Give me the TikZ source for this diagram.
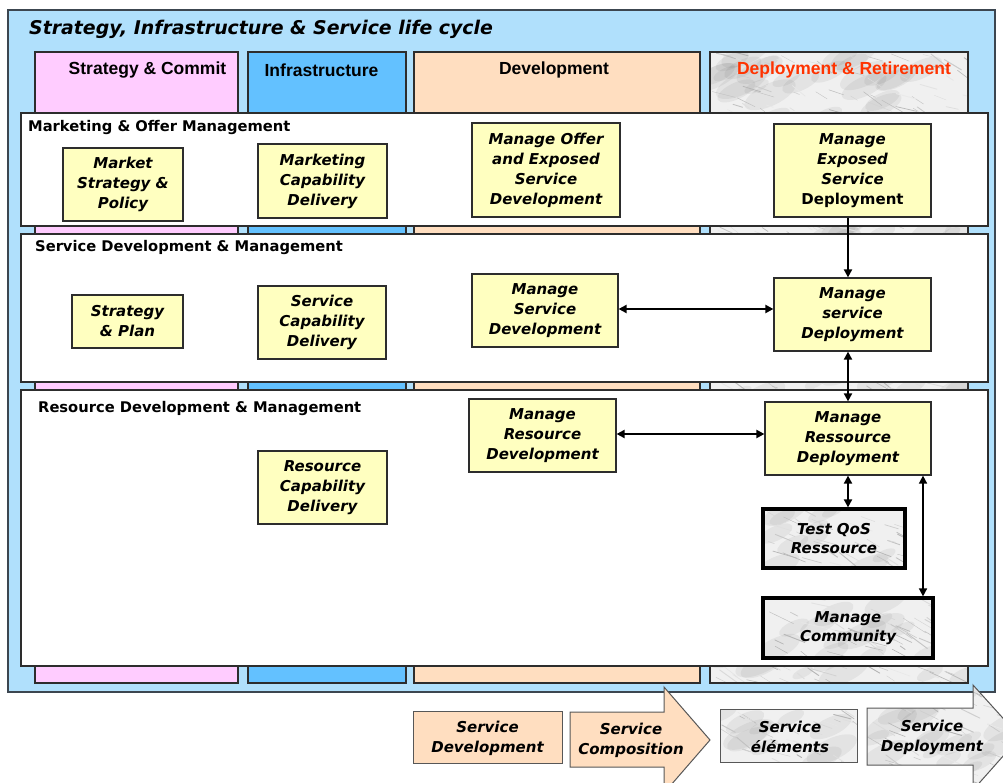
\documentclass[tikz,border=0pt]{standalone}
\usepackage{fontspec}
\setmainfont{Liberation Sans}
\newfontfamily\djv{DejaVu Sans}
\usetikzlibrary{arrows.meta}
\definecolor{outerblue}{RGB}{176,224,252}
\definecolor{colpink}{RGB}{255,204,255}
\definecolor{colblue}{RGB}{99,193,255}
\definecolor{colpeach}{RGB}{255,222,192}
\definecolor{boxyellow}{RGB}{255,255,192}
\definecolor{edge}{RGB}{45,45,45}
\definecolor{frame}{RGB}{60,70,80}
\definecolor{redhead}{RGB}{255,51,0}
\definecolor{marblebg}{RGB}{240,240,240}
\newcommand\marble[4]{%
\begin{scope}
\clip (#1,#2) rectangle (#3,#4);
\fill[marblebg] (#1,#2) rectangle (#3,#4);
\pgfmathtruncatemacro\mbn{((#3-#1)/20)*((#4-#2)/20)*0.5+1}%
\foreach \k in {1,...,\mbn}{%
\pgfmathsetmacro\mbx{#1+rnd*(#3-#1)}%
\pgfmathsetmacro\mby{#2+rnd*(#4-#2)}%
\pgfmathsetmacro\mbr{10+rnd*18}%
\fill[black, opacity=0.05, rotate around={25:(\mbx,\mby)}] (\mbx,\mby) ellipse ({\mbr pt} and {\mbr*0.4 pt});
}
\pgfmathtruncatemacro\mbn{((#3-#1)/20)*((#4-#2)/20)*1.8+2}%
\foreach \k in {1,...,\mbn}{%
\pgfmathsetmacro\mbx{#1+rnd*(#3-#1)}%
\pgfmathsetmacro\mby{#2+rnd*(#4-#2)}%
\pgfmathsetmacro\mbl{5+rnd*22}%
\pgfmathsetmacro\mba{12+rnd*28}%
\pgfmathsetmacro\mbg{8+rnd*22}%
\pgfmathsetmacro\mbw{0.3+rnd*0.7}%
\draw[black!\mbg, line width=\mbw pt, line cap=round] (\mbx,\mby) -- ++(\mba:\mbl);
}
\end{scope}}
\begin{document}
\begin{tikzpicture}[x=1pt,y=-1pt,
  col/.style={draw=edge, line width=1.2pt, inner sep=0pt},
  rowbox/.style={draw=edge, line width=1.8pt, fill=white, inner sep=0pt},
  box/.style={draw=edge, line width=1.2pt, fill=boxyellow, align=center, inner sep=0pt,
    font={\djv\bfseries\itshape\fontsize{15}{20}\selectfont}},
  mbox/.style={draw=black, line width=3.2pt, align=center, inner sep=0pt,
    font={\djv\bfseries\itshape\fontsize{15}{19}\selectfont}},
  btext/.style={align=center, inner sep=0pt, font={\djv\bfseries\itshape\fontsize{15}{20}\selectfont}},
  head/.style={inner sep=0pt, font={\bfseries\fontsize{17.5}{20}\selectfont}},
  rowlabel/.style={inner sep=0pt, anchor=west, font={\djv\bfseries\fontsize{14.7}{17}\selectfont}},
  title/.style={inner sep=0pt, anchor=west, font={\djv\bfseries\itshape\fontsize{18.9}{22}\selectfont}},
  arr/.style={-{Triangle[length=8pt,width=8pt]}, line width=1.8pt},
  darr/.style={{Triangle[length=8pt,width=8pt]}-{Triangle[length=8pt,width=8pt]}, line width=2.4pt},
  bshape/.style={draw=edge!80, line width=1pt}
]
\useasboundingbox (0,0) rectangle (1003,783);
\clip (0,0) rectangle (1003,783);
\pgfmathsetseed{42}
% outer frame
\node[draw=frame, line width=2pt, fill=outerblue, minimum width=987pt, minimum height=682pt, inner sep=0pt] (outer) at (501.5,351) {};
\node[title] (t) at (29,29) {Strategy, Infrastructure \& Service life cycle};
% columns
\node[col, fill=colpink, minimum width=203pt, minimum height=631pt] (c1) at (136.5,367.5) {};
\node[col, fill=colblue, minimum width=158pt, minimum height=631pt] (c2) at (327,367.5) {};
\node[col, fill=colpeach, minimum width=286pt, minimum height=631pt] (c3) at (557,367.5) {};
\marble{710}{52}{968}{683}
\node[col, minimum width=258pt, minimum height=631pt] (c4) at (839,367.5) {};
\node[head] (h1) at (147.5,70) {Strategy \& Commit};
\node[head] (h2) at (321.5,70) {Infrastructure};
\node[head] (h3) at (554,70) {Development};
\node[head, text=redhead] (h4) at (844,70) {Deployment \& Retirement};
% rows
\node[rowbox, minimum width=967pt, minimum height=113pt] (r1) at (504.5,169.5) {};
\node[rowbox, minimum width=967pt, minimum height=148pt] (r2) at (504.5,308) {};
\node[rowbox, minimum width=967pt, minimum height=276pt] (r3) at (504.5,528) {};
\node[rowlabel] (l1) at (28,128) {Marketing \& Offer Management};
\node[rowlabel] (l2) at (35,248) {Service Development \& Management};
\node[rowlabel] (l3) at (38,409) {Resource Development \& Management};
% boxes
\node[box, minimum width=120pt, minimum height=73pt] (mkt) at (123,184.5) {Market\\Strategy \&\\Policy};
\node[box, minimum width=129pt, minimum height=74pt] (mcd) at (322.5,181) {Marketing\\Capability\\Delivery};
\node[box, minimum width=148pt, minimum height=94pt] (moe) at (546,170) {Manage Offer\\and Exposed\\Service\\Development};
\node[box, minimum width=157pt, minimum height=93pt] (med) at (852.5,170.5) {Manage\\Exposed\\Service\\{\upshape Deployment}};
\node[box, minimum width=111pt, minimum height=53pt] (sp) at (127.5,321.5) {Strategy\\\& Plan};
\node[box, minimum width=128pt, minimum height=73pt] (scd) at (322,322.5) {Service\\Capability\\Delivery};
\node[box, minimum width=146pt, minimum height=73pt] (msd) at (545,310.5) {Manage\\Service\\Development};
\node[box, minimum width=157pt, minimum height=73pt] (msdep) at (852.5,314.5) {Manage\\service\\Deployment};
\node[box, minimum width=147pt, minimum height=73pt] (mrd) at (542.5,435.5) {Manage\\Resource\\Development};
\node[box, minimum width=166pt, minimum height=73pt] (mrdep) at (848,438.5) {Manage\\Ressource\\Deployment};
\node[box, minimum width=129pt, minimum height=73pt] (rcd) at (322.5,487.5) {Resource\\Capability\\Delivery};
\marble{763}{509}{905}{568}
\node[mbox, minimum width=142pt, minimum height=59pt] (tqos) at (834,538.5) {Test QoS\\Ressource};
\marble{763}{598}{933}{658}
\node[mbox, minimum width=170pt, minimum height=60pt] (mc) at (848,628) {Manage\\Community};
% connectors
\draw[arr] ([xshift=-4.5pt]med.south) -- ([xshift=-4.5pt]msdep.north);
\draw[darr] ([yshift=1.5pt]msd.east) -- ([yshift=1.5pt]msd.east -| msdep.west);
\draw[darr, line width=1.8pt] (mrdep.north |- msdep.south) -- (mrdep.north);
\draw[darr] ([yshift=1.5pt]mrd.east) -- ([yshift=1.5pt]mrd.east -| mrdep.west);
\draw[darr, line width=1.8pt] (mrdep.south) -- (mrdep.south |- tqos.north);
\draw[darr, line width=1.6pt] ([xshift=75pt]mrdep.south) -- ([xshift=75pt]mrdep.south |- mc.north);
% bottom flow
\node[bshape, fill=colpeach, minimum width=149pt, minimum height=52pt, inner sep=0pt] (sdevbox) at (487.5,737) {};
\node[btext] (sdev) at (487.5,738) {Service\\Development};
\draw[bshape, fill=colpeach] (570,712) -- (664,712) -- (664,687) -- (710,740) -- (664,793) -- (664,767) -- (570,767) -- cycle;
\node[btext] (scomp) at (631,740) {Service\\Composition};
\marble{720}{709}{857}{762}
\node[bshape, minimum width=137pt, minimum height=53pt, inner sep=0pt] (selbox) at (788.5,735.5) {};
\node[btext] (sel) at (790,737) {Service\\éléments};
\begin{scope}
\clip (867,708) -- (973,708) -- (973,685) -- (1020,737) -- (973,790) -- (973,765) -- (867,765) -- cycle;
\marble{867}{684}{1020}{790}
\end{scope}
\draw[bshape] (867,708) -- (973,708) -- (973,685) -- (1020,737) -- (973,790) -- (973,765) -- (867,765) -- cycle;
\node[btext] (sdep) at (932,737) {Service\\Deployment};
\end{tikzpicture}
\end{document}
